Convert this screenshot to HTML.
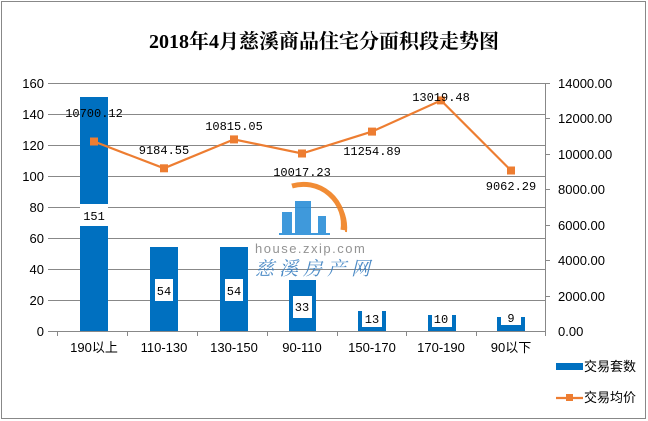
<!DOCTYPE html>
<html><head><meta charset="utf-8"><style>
html,body{margin:0;padding:0;background:#fff;}
svg{display:block;}
.ax{font-family:"Liberation Sans","Noto Sans CJK SC",sans-serif;font-size:13px;fill:#000;}
.dl{font-family:"Liberation Mono","Noto Sans CJK SC",monospace;font-size:12px;fill:#000;}
</style></head><body>
<svg width="648" height="421" viewBox="0 0 648 421" xmlns="http://www.w3.org/2000/svg">
<rect x="1.5" y="1.5" width="644" height="417" fill="#fff" stroke="#888"/>
<text x="324" y="48" text-anchor="middle" font-family="'Liberation Serif','Noto Serif CJK SC',serif" font-size="20" font-weight="bold">2018年4月慈溪商品住宅分面积段走势图</text>
<g stroke="#888" stroke-width="1">
<line x1="48" y1="83.5" x2="545" y2="83.5"/>
<line x1="48" y1="114.5" x2="545" y2="114.5"/>
<line x1="48" y1="145.5" x2="545" y2="145.5"/>
<line x1="48" y1="176.5" x2="545" y2="176.5"/>
<line x1="48" y1="207.5" x2="545" y2="207.5"/>
<line x1="48" y1="238.5" x2="545" y2="238.5"/>
<line x1="48" y1="269.5" x2="545" y2="269.5"/>
<line x1="48" y1="300.5" x2="545" y2="300.5"/>
<line x1="48" y1="331.5" x2="545" y2="331.5"/>
<line x1="545.5" y1="83" x2="545.5" y2="331"/>
<g>
<line x1="57.5" y1="331" x2="57.5" y2="336"/><line x1="127.5" y1="331" x2="127.5" y2="336"/><line x1="197.5" y1="331" x2="197.5" y2="336"/><line x1="267.5" y1="331" x2="267.5" y2="336"/><line x1="337.5" y1="331" x2="337.5" y2="336"/><line x1="406.5" y1="331" x2="406.5" y2="336"/><line x1="476.5" y1="331" x2="476.5" y2="336"/><line x1="545.5" y1="331" x2="545.5" y2="336"/>
<line x1="545" y1="83.5" x2="550" y2="83.5"/><line x1="545" y1="118.5" x2="550" y2="118.5"/><line x1="545" y1="154.5" x2="550" y2="154.5"/><line x1="545" y1="189.5" x2="550" y2="189.5"/><line x1="545" y1="225.5" x2="550" y2="225.5"/><line x1="545" y1="260.5" x2="550" y2="260.5"/><line x1="545" y1="296.5" x2="550" y2="296.5"/>
</g></g>
<g class="ax" text-anchor="end">
<text x="44" y="88">160</text><text x="44" y="119">140</text><text x="44" y="150">120</text><text x="44" y="181">100</text><text x="44" y="212">80</text><text x="44" y="243">60</text><text x="44" y="274">40</text><text x="44" y="305">20</text><text x="44" y="336">0</text>
</g>
<g class="ax">
<text x="558" y="88">14000.00</text><text x="558" y="123">12000.00</text><text x="558" y="159">10000.00</text><text x="558" y="194">8000.00</text><text x="558" y="230">6000.00</text><text x="558" y="265">4000.00</text><text x="558" y="301">2000.00</text><text x="558" y="336">0.00</text>
</g>
<!-- watermark -->
<g opacity="0.9">
<path d="M292 186 A40 40 0 0 1 343 230" fill="none" stroke="#f08020" stroke-width="5"/>
<path d="M300 184 A44 44 0 0 1 346 232" fill="none" stroke="#f08020" stroke-width="2"/>
<rect x="282" y="212" width="10" height="22" fill="#2b8fd8"/>
<rect x="295" y="201" width="16" height="33" fill="#2b8fd8"/>
<rect x="318" y="216" width="8" height="18" fill="#2b8fd8"/>
<rect x="279" y="233" width="51" height="2" fill="#2b8fd8"/>
<text x="255" y="253" font-family="'Liberation Sans',sans-serif" font-size="13" fill="#888" letter-spacing="1.5">house.zxip.com</text>
<text x="255" y="275" font-family="'Noto Serif CJK SC',serif" font-size="19" font-style="italic" fill="#3a7fc0" letter-spacing="5">慈溪房产网</text>
</g>
<!-- bars -->
<g fill="#0070c0">
<rect x="80" y="97" width="28" height="234"/>
<rect x="150" y="247" width="28" height="84"/>
<rect x="220" y="247" width="28" height="84"/>
<rect x="289" y="280" width="27" height="51"/>
<rect x="358" y="311" width="28" height="20"/>
<rect x="428" y="315" width="28" height="16"/>
<rect x="497" y="317" width="28" height="14"/>
</g>
<g fill="#fff">
<rect x="80" y="204" width="28" height="22"/>
<rect x="155" y="279" width="18" height="22"/>
<rect x="225" y="279" width="18" height="22"/>
<rect x="293" y="296" width="19" height="22"/>
<rect x="362" y="311" width="20" height="16"/>
<rect x="432" y="315" width="20" height="12"/>
<rect x="501" y="317" width="20" height="8"/>
</g>
<g class="dl" text-anchor="middle">
<text x="94" y="220">151</text><text x="164" y="295">54</text><text x="234" y="295">54</text><text x="302" y="311">33</text><text x="372" y="323">13</text><text x="441" y="323">10</text><text x="511" y="322">9</text>
</g>
<polyline points="94,141.5 164,168.3 234,139.4 302,153.5 372,131.6 441,100.4 511,170.5" fill="none" stroke="#ed7d31" stroke-width="2.2"/>
<g fill="#ed7d31">
<rect x="90" y="137.5" width="8" height="8"/><rect x="160" y="164.3" width="8" height="8"/><rect x="230" y="135.4" width="8" height="8"/><rect x="298" y="149.5" width="8" height="8"/><rect x="368" y="127.6" width="8" height="8"/><rect x="437" y="96.4" width="8" height="8"/><rect x="507" y="166.5" width="8" height="8"/>
</g>
<g class="dl" text-anchor="middle">
<text x="94" y="117">10700.12</text><text x="164" y="154">9184.55</text><text x="234" y="130">10815.05</text><text x="302" y="176">10017.23</text><text x="372" y="155">11254.89</text><text x="441" y="101">13019.48</text><text x="511" y="190">9062.29</text>
</g>
<g class="ax" text-anchor="middle" font-size="12">
<text x="94" y="352">190以上</text><text x="164" y="352">110-130</text><text x="234" y="352">130-150</text><text x="302" y="352">90-110</text><text x="372" y="352">150-170</text><text x="441" y="352">170-190</text><text x="511" y="352">90以下</text>
</g>
<rect x="556" y="363" width="27" height="7" fill="#0070c0"/>
<text x="584" y="371" class="ax" font-size="12">交易套数</text>
<line x1="556" y1="398" x2="583" y2="398" stroke="#ed7d31" stroke-width="2.2"/>
<rect x="566" y="394" width="7" height="7" fill="#ed7d31"/>
<text x="584" y="402" class="ax" font-size="12">交易均价</text>
</svg>
</body></html>
